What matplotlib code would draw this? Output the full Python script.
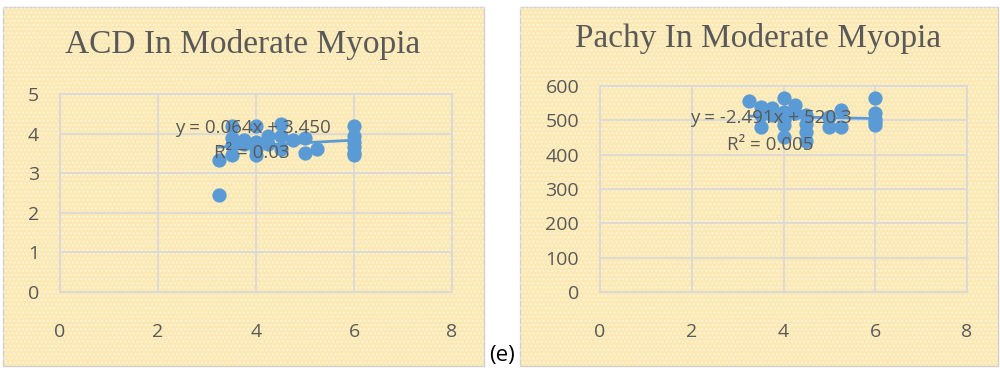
import numpy as np
import matplotlib
matplotlib.use("Agg")
import matplotlib.pyplot as plt
from matplotlib.patches import Rectangle

# ---- data ----
acd_x = [3.25, 3.25, 3.5, 3.5, 3.5, 3.5, 3.75, 3.75, 4.0, 4.0, 4.0, 4.0,
         4.25, 4.25, 4.5, 4.5, 4.5, 4.75, 5.0, 5.0, 5.25,
         6.0, 6.0, 6.0, 6.0, 6.0, 6.0]
acd_y = [3.33, 2.45, 4.2, 3.9, 3.7, 3.45, 3.85, 3.75, 4.2, 3.8, 3.6, 3.45,
         3.95, 3.75, 4.25, 3.95, 3.6, 3.85, 3.9, 3.5, 3.6,
         4.2, 3.95, 3.8, 3.65, 3.5, 3.45]
acd_slope, acd_icpt = 0.064, 3.450

pachy_x = [3.25, 3.5, 3.5, 3.5, 3.75, 3.75, 4.0, 4.0, 4.0, 4.0, 4.0,
           4.25, 4.25, 4.5, 4.5, 4.5, 4.5, 5.0, 5.0, 5.25, 5.25,
           6.0, 6.0, 6.0, 6.0, 6.0]
pachy_y = [555, 540, 515, 480, 535, 515, 565, 525, 500, 485, 450,
           545, 520, 515, 490, 465, 440, 510, 480, 530, 480,
           565, 520, 505, 495, 485]
pachy_slope, pachy_icpt = -2.491, 520.3

TXT = '#595959'
GRID = '#d9d9d9'
BLUE = '#5b9bd5'

fig = plt.figure(figsize=(10, 3.7), dpi=100)

# panel backgrounds (Excel chart area)
for x0, x1 in [(0.003, 0.484), (0.52, 0.998)]:
    fig.patches.append(Rectangle((x0, 0.012), x1 - x0, 0.97, transform=fig.transFigure,
                                 facecolor='#fce8b2', edgecolor='#d0d0d0', linewidth=1.0,
                                 zorder=-2))
    fig.patches.append(Rectangle((x0, 0.012), x1 - x0, 0.97, transform=fig.transFigure,
                                 facecolor='none', edgecolor='white', hatch='....',
                                 linewidth=0, alpha=0.5, zorder=-1))

def draw_panel(ax, xs, ys, slope, icpt, ymax, ystep, title, eq, r2, title_xy, eq_xy, r2_xy):
    ax.set_facecolor('none')
    ax.scatter(xs, ys, s=105, color=BLUE, zorder=3, linewidths=0)
    xf = np.array([min(xs), max(xs)])
    ax.plot(xf, slope * xf + icpt, color=BLUE, linewidth=2, zorder=3)
    ax.set_xlim(0, 8)
    ax.set_ylim(0, ymax)
    ax.set_xticks(range(0, 9, 2))
    ax.set_yticks(np.arange(0, ymax + 1, ystep))
    ax.grid(True, color=GRID, linewidth=1.3, zorder=1)
    for s in ax.spines.values():
        s.set_color(GRID)
        s.set_linewidth(1.3)
    ax.tick_params(length=0, colors=TXT, labelsize=14)
    ax.tick_params(axis='x', pad=22)
    ax.tick_params(axis='y', pad=15)
    for lab in ax.get_xticklabels() + ax.get_yticklabels():
        lab.set_family('Open Sans')
    ax.set_axisbelow(True)
    fig.text(title_xy[0], title_xy[1], title, ha='center', va='center',
             family='Liberation Serif', fontsize=24, color=TXT)
    ax.text(eq_xy[0], eq_xy[1], eq, transform=ax.transData, ha='center', va='center',
            family='Open Sans', fontsize=13.5, color=TXT, zorder=4)
    ax.text(r2_xy[0], r2_xy[1], r2, transform=ax.transData, ha='center', va='center',
            family='Open Sans', fontsize=13.5, color=TXT, zorder=4)

# left: ACD
ax1 = fig.add_axes([60 / 1000, 1 - 292 / 370, 392 / 1000, 198 / 370])
draw_panel(ax1, acd_x, acd_y, acd_slope, acd_icpt, 5, 1,
           'ACD In Moderate Myopia', 'y = 0.064x + 3.450', 'R² = 0.03',
           (243 / 1000, 1 - 45 / 370), (3.94, 4.14), (3.92, 3.51))

# right: Pachy
ax2 = fig.add_axes([600 / 1000, 1 - 292 / 370, 367 / 1000, 206 / 370])
draw_panel(ax2, pachy_x, pachy_y, pachy_slope, pachy_icpt, 600, 100,
           'Pachy In Moderate Myopia', 'y = -2.491x + 520.3', 'R² = 0.005',
           (758 / 1000, 1 - 38 / 370), (3.73, 507), (3.72, 428))

fig.text(502 / 1000, 1 - 356 / 370, '(e)', ha='center', va='center',
         family='Open Sans', fontsize=16, color='black')

fig.savefig('out.png', dpi=100)
